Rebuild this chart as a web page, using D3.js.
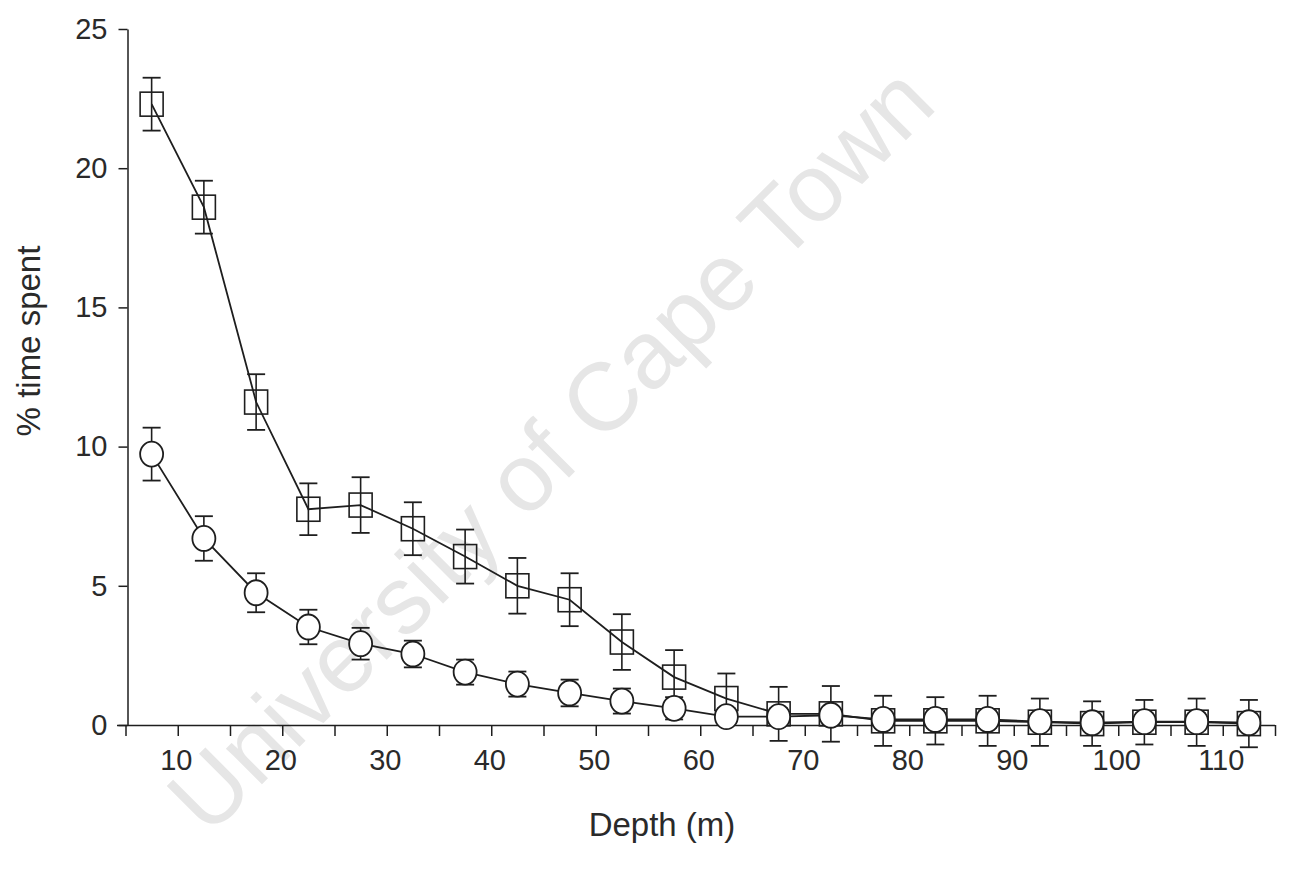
<!DOCTYPE html>
<html>
<head>
<meta charset="utf-8">
<script src="https://cdn.jsdelivr.net/npm/d3@7"></script>
<style>
  html, body { margin: 0; padding: 0; background: #fff; }
  svg { display: block; font-family: "Liberation Sans", Arial, sans-serif; }
</style>
</head>
<body>
<svg id="chart" width="1291" height="872"></svg>
<script>
// Depth bins (midpoints, m)
const depths = [7.5, 12.5, 17.5, 22.5, 27.5, 32.5, 37.5, 42.5, 47.5, 52.5, 57.5,
                62.5, 67.5, 72.5, 77.5, 82.5, 87.5, 92.5, 97.5, 102.5, 107.5, 112.5];

// Square-marker series: mean % time and error
const squareMean = [22.3, 18.6, 11.6, 7.75, 7.9, 7.05, 6.05, 5.0, 4.5, 2.98, 1.72,
                    0.95, 0.4, 0.4, 0.15, 0.15, 0.15, 0.1, 0.05, 0.1, 0.1, 0.05];
const squareErr  = [0.95, 0.95, 1.0, 0.93, 1.0, 0.95, 0.97, 1.0, 0.95, 1.0, 0.97,
                    0.9, 0.97, 1.0, 0.9, 0.85, 0.9, 0.85, 0.8, 0.8, 0.85, 0.85];

// Circle-marker series: mean % time and error
const circleMean = [9.73, 6.7, 4.75, 3.52, 2.92, 2.55, 1.9, 1.47, 1.15, 0.86, 0.6,
                    0.3, 0.3, 0.35, 0.2, 0.2, 0.2, 0.12, 0.08, 0.12, 0.12, 0.08];
const circleErr  = [0.95, 0.8, 0.7, 0.62, 0.57, 0.48, 0.45, 0.45, 0.48, 0.45, 0.4,
                    0.3, 0.3, 0.3, 0.3, 0.3, 0.3, 0.3, 0.3, 0.3, 0.3, 0.3];

const xTicks = d3.range(5, 116, 5);
const xTickLabels = [10, 20, 30, 40, 50, 60, 70, 80, 90, 100, 110];
const yTicks = [0, 5, 10, 15, 20, 25];

const xTitle = "Depth (m)";
const yTitle = "% time spent";
const watermark = "University of Cape Town";

const ink = "#1e1e1e";
const svg = d3.select("#chart");

const x = d3.scaleLinear().domain([5, 115]).range([125.5, 1275]);
const y = d3.scaleLinear().domain([0, 25]).range([725, 29]);

// Faint diagonal watermark behind the plot
svg.append("text")
  .attr("transform", "translate(550,449) rotate(-45)")
  .attr("text-anchor", "middle")
  .attr("dominant-baseline", "central")
  .attr("font-size", 96)
  .attr("fill", "#e6e6e6")
  .text(watermark);

// Axes
const xAxis = d3.axisBottom(x)
  .tickValues(xTicks)
  .tickSize(11)
  .tickSizeOuter(0)
  .tickFormat(d => xTickLabels.includes(d) ? d : "");
const gx = svg.append("g").attr("transform", `translate(0,${y(0)})`).call(xAxis);
gx.select(".domain").attr("d", `M117,0.5H${x(115)}`);
gx.selectAll("line, path").attr("stroke", ink).attr("stroke-width", 1.5);
gx.selectAll("text").attr("font-size", 29).attr("fill", "#2a2a2a").attr("dy", "1.08em").attr("dx", -2);

const yAxis = d3.axisLeft(y)
  .tickValues(yTicks)
  .tickSize(9)
  .tickSizeOuter(0)
  .tickPadding(11);
const gy = svg.append("g").attr("transform", `translate(${x(5) + 2},0)`).call(yAxis);
gy.selectAll("line, path").attr("stroke", ink).attr("stroke-width", 1.5);
gy.selectAll("text").attr("font-size", 29).attr("fill", "#2a2a2a");

// Axis titles
svg.append("text")
  .attr("x", 662).attr("y", 836)
  .attr("text-anchor", "middle")
  .attr("font-size", 33)
  .attr("fill", "#2a2a2a")
  .text(xTitle);

svg.append("text")
  .attr("transform", "translate(40,341) rotate(-90)")
  .attr("text-anchor", "middle")
  .attr("font-size", 33)
  .attr("fill", "#2a2a2a")
  .text(yTitle);

const line = d3.line().x(d => x(d[0])).y(d => y(d[1]));

function drawSeries(means, errs, shape) {
  const pts = depths.map((d, i) => [d, means[i], errs[i]]);
  const g = svg.append("g");
  g.append("path")
    .datum(pts)
    .attr("d", line)
    .attr("fill", "none")
    .attr("stroke", ink)
    .attr("stroke-width", 1.8);

  const eb = g.selectAll(".err").data(pts).enter().append("g");
  eb.append("line")
    .attr("x1", d => x(d[0])).attr("x2", d => x(d[0]))
    .attr("y1", d => y(d[1] + d[2])).attr("y2", d => y(d[1] - d[2]))
    .attr("stroke", ink).attr("stroke-width", 1.6);
  [1, -1].forEach(s => {
    eb.append("line")
      .attr("x1", d => x(d[0]) - 9).attr("x2", d => x(d[0]) + 9)
      .attr("y1", d => y(d[1] + s * d[2])).attr("y2", d => y(d[1] + s * d[2]))
      .attr("stroke", ink).attr("stroke-width", 1.8);
  });

  if (shape === "square") {
    g.selectAll(".mk").data(pts).enter().append("rect")
      .attr("x", d => x(d[0]) - 11.5)
      .attr("y", d => y(d[1]) - 12)
      .attr("width", 23).attr("height", 24)
      .attr("fill", "none")
      .attr("stroke", ink).attr("stroke-width", 1.6);
  } else {
    g.selectAll(".mk").data(pts).enter().append("ellipse")
      .attr("cx", d => x(d[0]))
      .attr("cy", d => y(d[1]))
      .attr("rx", 11.5).attr("ry", 12.5)
      .attr("fill", "#fff")
      .attr("stroke", ink).attr("stroke-width", 1.8);
  }
}

drawSeries(squareMean, squareErr, "square");
drawSeries(circleMean, circleErr, "circle");
</script>
</body>
</html>
